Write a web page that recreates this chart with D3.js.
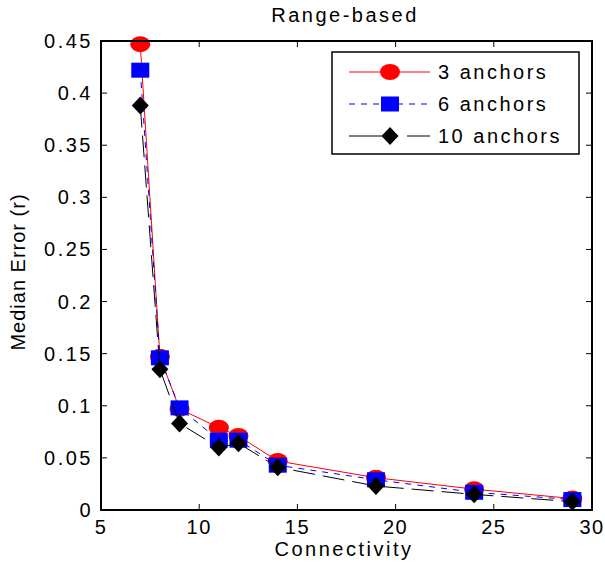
<!DOCTYPE html>
<html>
<head>
<meta charset="utf-8">
<script src="https://cdn.jsdelivr.net/npm/d3@7"></script>
<style>
  body { margin: 0; background: #fff; }
  text { font-family: "Liberation Sans", Arial, Helvetica, sans-serif; fill: #000; }
</style>
</head>
<body>
<div id="chart"></div>
<script>
const connectivity = [7, 8, 9, 11, 12, 14, 19, 24, 29];
const anchors3 = [0.447, 0.147, 0.097, 0.079, 0.071, 0.047, 0.031, 0.020, 0.011];
const anchors6 = [0.422, 0.146, 0.098, 0.067, 0.067, 0.043, 0.029, 0.017, 0.010];
const anchors10 = [0.388, 0.135, 0.083, 0.060, 0.064, 0.041, 0.023, 0.015, 0.008];
const xTicks = [5, 10, 15, 20, 25, 30];
const yTicks = [0, 0.05, 0.1, 0.15, 0.2, 0.25, 0.3, 0.35, 0.4, 0.45];

const series = [
    { name: "3 anchors", values: anchors3, color: "#ff0000", dash: null, marker: "circle" },
    { name: "6 anchors", values: anchors6, color: "#0000ff", dash: "6,6", marker: "square" },
    { name: "10 anchors", values: anchors10, color: "#000000", dash: "22,8", marker: "diamond" }
];

const W = 605, H = 566;
const margin = { top: 41, right: 13, bottom: 56, left: 101 };
const width = W - margin.left - margin.right;
const height = H - margin.top - margin.bottom;

const svg = d3.select("#chart")
    .append("svg")
    .attr("width", W)
    .attr("height", H);

const g = svg.append("g")
    .attr("transform", `translate(${margin.left},${margin.top})`);

const x = d3.scaleLinear().domain([5, 30]).range([0, width]);
const y = d3.scaleLinear().domain([0, 0.45]).range([height, 0]);

// ticks on all four sides, pointing in
const tickLen = 6;
xTicks.forEach(t => {
    g.append("line").attr("x1", x(t)).attr("x2", x(t)).attr("y1", height).attr("y2", height - tickLen)
        .attr("stroke", "#000").attr("stroke-width", 1);
    g.append("line").attr("x1", x(t)).attr("x2", x(t)).attr("y1", 0).attr("y2", tickLen)
        .attr("stroke", "#000").attr("stroke-width", 1);
    g.append("text")
        .attr("x", x(t))
        .attr("y", height + 24)
        .attr("text-anchor", "middle")
        .style("font-size", "20px")
        .style("letter-spacing", "1.5px")
        .text(t);
});
yTicks.forEach(t => {
    g.append("line").attr("x1", 0).attr("x2", tickLen).attr("y1", y(t)).attr("y2", y(t))
        .attr("stroke", "#000").attr("stroke-width", 1);
    g.append("line").attr("x1", width).attr("x2", width - tickLen).attr("y1", y(t)).attr("y2", y(t))
        .attr("stroke", "#000").attr("stroke-width", 1);
    g.append("text")
        .attr("x", -8)
        .attr("y", y(t))
        .attr("dy", "0.35em")
        .attr("text-anchor", "end")
        .style("font-size", "20px")
        .style("letter-spacing", "2.5px")
        .text(t);
});

const line = d3.line()
    .x((d, i) => x(connectivity[i]))
    .y(d => y(d));

function drawMarker(sel, type, color, cx, cy) {
    if (type === "circle") {
        sel.append("ellipse").attr("cx", cx).attr("cy", cy).attr("rx", 10).attr("ry", 8).attr("fill", color);
    } else if (type === "square") {
        sel.append("rect").attr("x", cx - 9).attr("y", cy - 7.5).attr("width", 18).attr("height", 15).attr("fill", color);
    } else {
        sel.append("path")
            .attr("d", `M${cx},${cy - 9}L${cx + 8.5},${cy}L${cx},${cy + 9}L${cx - 8.5},${cy}Z`)
            .attr("fill", color);
    }
}

series.forEach(s => {
    g.append("path")
        .datum(s.values)
        .attr("d", line)
        .attr("fill", "none")
        .attr("stroke", s.color)
        .attr("stroke-width", 1)
        .attr("stroke-dasharray", s.dash);
    const mg = g.append("g");
    s.values.forEach((v, i) => drawMarker(mg, s.marker, s.color, x(connectivity[i]), y(v)));
});

// axes box
g.append("rect")
    .attr("width", width).attr("height", height)
    .attr("fill", "none").attr("stroke", "#000").attr("stroke-width", 2);

// legend
const legend = svg.append("g").attr("transform", "translate(332,52)");
legend.append("rect")
    .attr("width", 247).attr("height", 102)
    .attr("fill", "#fff").attr("stroke", "#000").attr("stroke-width", 1.5);
series.forEach((s, i) => {
    const ly = 20 + i * 32;
    legend.append("line")
        .attr("x1", 17).attr("x2", 98).attr("y1", ly).attr("y2", ly)
        .attr("stroke", s.color).attr("stroke-width", 1)
        .attr("stroke-dasharray", s.dash ? (s.marker === "diamond" ? "33,25" : "6,6") : null);
    drawMarker(legend, s.marker, s.color, 58, ly);
    legend.append("text")
        .attr("x", 106).attr("y", ly)
        .attr("dy", "0.35em")
        .style("font-size", "20px")
        .style("letter-spacing", "2.5px")
        .text(s.name);
});

// title and axis labels
svg.append("text")
    .attr("x", 345).attr("y", 22)
    .attr("text-anchor", "middle")
    .style("font-size", "20px")
    .style("letter-spacing", "2.5px")
    .text("Range-based");

svg.append("text")
    .attr("x", 344).attr("y", 556)
    .attr("text-anchor", "middle")
    .style("font-size", "20px")
    .style("letter-spacing", "2.5px")
    .text("Connectivity");

svg.append("text")
    .attr("transform", "translate(25,272) rotate(-90)")
    .attr("text-anchor", "middle")
    .style("font-size", "20px")
    .style("letter-spacing", "1px")
    .text("Median Error (r)");
</script>
</body>
</html>
